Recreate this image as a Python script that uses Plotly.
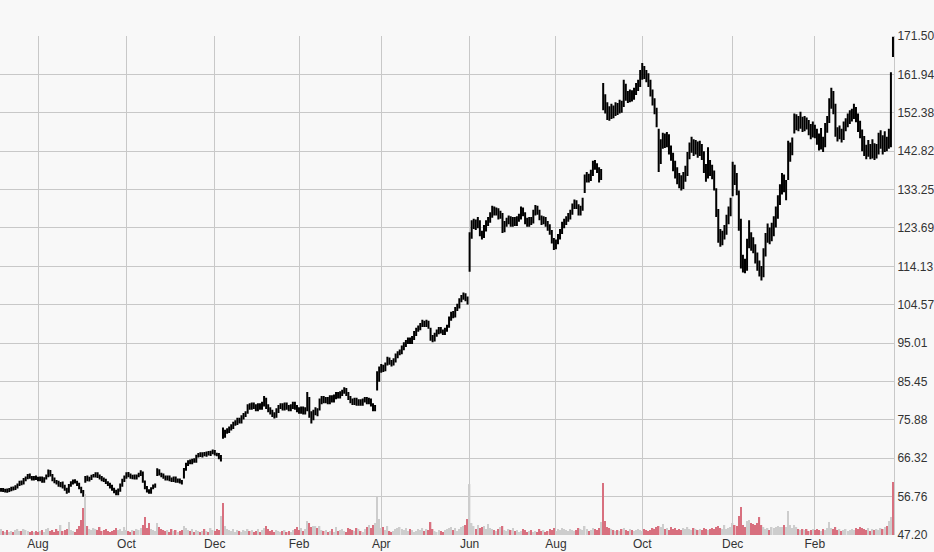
import pandas as pd
import plotly.graph_objects as go

# ---- trading calendar (x categories) ----
holidays = ["2017-09-04", "2017-11-23", "2017-12-25", "2018-01-01", "2018-01-15",
            "2018-02-19", "2018-03-30", "2018-05-28", "2018-07-04", "2018-09-03",
            "2018-11-22", "2018-12-05", "2018-12-25", "2019-01-01", "2019-01-21",
            "2019-02-18"]
dates = [d.strftime("%Y-%m-%d") for d in pd.bdate_range("2017-07-06", "2019-03-28")
         if d.strftime("%Y-%m-%d") not in holidays]

tick_months = ["2017-08", "2017-10", "2017-12", "2018-02", "2018-04", "2018-06",
               "2018-08", "2018-10", "2018-12", "2019-02"]
tick_text = ["Aug", "Oct", "Dec", "Feb", "Apr", "Jun", "Aug", "Oct", "Dec", "Feb"]

y_ticks = [47.20, 56.76, 66.32, 75.88, 85.45, 95.01, 104.57, 114.13, 123.69,
           133.25, 142.82, 152.38, 161.94, 171.50]

# ---- price data ----
open_ = [
    58.3, 58.6, 58.1, 58.5, 58.1, 58.4, 58.9, 58.7, 59.1, 59.7,
    60.4, 60.1, 60.9, 61.5, 62.1, 61.5, 61.1, 61.6, 61.3, 60.9,
    61.5, 60.5, 61.3, 61.9, 63.1, 62.1, 61.1, 60.4, 60.3, 59.5,
    60.1, 59.3, 58.7, 58.0, 59.6, 60.1, 60.7, 60.3, 59.9, 58.9,
    58.1, 60.6, 61.6, 60.9, 61.2, 61.9, 61.9, 62.5, 61.9, 61.5,
    61.1, 60.9, 60.2, 59.9, 59.3, 58.7, 58.1, 57.4, 58.3, 59.5,
    60.7, 61.5, 62.5, 62.1, 61.5, 61.9, 61.3, 62.0, 62.2, 62.7,
    60.5, 59.1, 58.3, 57.8, 58.9, 59.3, 62.2, 63.3, 62.3, 62.1,
    61.7, 61.1, 61.7, 61.1, 60.7, 61.5, 60.5, 61.0, 60.5, 61.6,
    63.5, 64.7, 65.6, 65.1, 65.9, 65.5, 66.9, 67.4, 66.9, 67.5,
    67.1, 67.7, 67.3, 67.7, 68.1, 67.3, 67.3, 66.4, 73.2, 71.9,
    72.9, 73.1, 73.7, 74.1, 74.9, 75.1, 75.9, 75.5, 76.5, 77.1,
    77.8, 79.4, 78.9, 79.7, 79.3, 78.5, 79.5, 78.9, 79.7, 81.1,
    79.3, 78.5, 77.9, 77.3, 76.9, 78.1, 79.1, 79.5, 78.7, 79.7,
    79.1, 78.5, 79.1, 79.9, 79.1, 78.5, 77.9, 78.7, 77.7, 78.3,
    80.9, 77.2, 76.3, 77.5, 78.3, 78.5, 80.3, 81.3, 80.5, 81.1,
    80.3, 81.5, 80.7, 81.5, 82.3, 81.7, 82.3, 82.9, 83.5, 82.5,
    81.3, 80.7, 80.1, 80.9, 79.9, 80.5, 79.9, 80.7, 81.1, 80.3,
    80.9, 79.7, 78.5, 84.2, 85.8, 88.3, 89.1, 88.5, 89.7, 90.9,
    90.3, 89.9, 90.7, 91.7, 92.5, 92.7, 93.7, 94.5, 95.3, 95.9,
    95.3, 96.3, 97.3, 98.3, 98.7, 99.5, 100.1, 99.5, 100.3, 98.5,
    96.5, 95.9, 97.1, 97.7, 98.5, 97.9, 97.5, 98.3, 99.2, 101.1,
    102.3, 101.7, 103.5, 104.1, 105.7, 106.3, 107.1, 106.1, 115.0, 121.6,
    124.3, 125.1, 124.1, 125.3, 122.3, 121.9, 123.5, 124.9, 125.5, 126.7,
    128.3, 127.5, 128.1, 126.7, 127.0, 123.5, 124.7, 125.3, 126.1, 124.7,
    125.7, 124.9, 125.9, 126.3, 128.1, 127.3, 125.5, 124.7, 125.7, 125.1,
    127.5, 128.7, 127.7, 126.1, 125.3, 125.7, 124.7, 123.9, 122.8, 120.5,
    118.9, 120.1, 121.3, 122.7, 124.3, 125.1, 125.9, 126.5, 127.5, 129.1,
    129.9, 129.1, 127.5, 128.5, 133.0, 135.7, 136.5, 135.9, 137.1, 139.3,
    138.9, 138.3, 136.3, 159.0, 155.1, 153.9, 152.3, 151.5, 153.1, 152.3,
    153.7, 152.9, 154.3, 154.2, 158.5, 156.7, 155.9, 157.1, 156.3, 157.7,
    158.5, 159.5, 161.5, 163.3, 161.9, 161.5, 160.1, 157.7, 155.3, 153.1,
    147.8, 140.8, 144.7, 146.1, 145.1, 146.5, 142.9, 141.7, 139.1, 138.1,
    136.1, 135.7, 134.7, 136.1, 137.3, 141.7, 143.5, 144.9, 143.1, 144.5,
    142.7, 143.9, 142.1, 138.7, 136.9, 139.5, 138.3, 137.3, 133.0, 127.9,
    121.5, 120.1, 121.7, 122.7, 125.5, 127.3, 132.0, 137.9, 135.9, 132.6,
    125.5, 116.1, 113.9, 113.6, 119.5, 121.9, 119.3, 118.7, 116.3, 114.7,
    112.9, 112.3, 117.5, 121.1, 122.5, 121.3, 122.9, 124.7, 126.9, 130.3,
    132.9, 136.1, 133.5, 136.4, 141.1, 143.3, 148.0, 149.5, 150.5, 149.3,
    150.7, 148.9, 150.3, 149.7, 148.5, 147.3, 148.7, 147.7, 146.1, 144.5,
    145.5, 144.3, 148.5, 150.5, 154.3, 157.3, 154.0, 147.9, 146.7, 147.7,
    146.3, 148.9, 149.5, 150.9, 151.3, 152.1, 153.1, 151.5, 149.1, 147.7,
    144.7, 143.1, 142.5, 143.5, 142.5, 143.9, 142.1, 143.1, 144.3, 146.3,
    143.7, 145.5, 144.5, 145.2, 170.6,
]
high = [
    58.9, 58.9, 58.7, 58.8, 58.9, 59.2, 59.3, 59.6, 60.0, 60.7,
    60.8, 61.4, 61.8, 62.4, 62.5, 61.9, 61.9, 62.0, 61.7, 61.8,
    61.8, 61.6, 62.3, 63.5, 63.4, 62.4, 61.5, 60.9, 60.7, 60.4,
    60.5, 59.7, 59.0, 59.9, 60.6, 61.0, 61.1, 60.7, 60.2, 59.2,
    58.4, 61.9, 62.0, 61.7, 62.2, 62.4, 62.8, 62.8, 62.3, 61.9,
    61.5, 61.2, 60.6, 60.2, 59.7, 59.0, 58.5, 58.8, 60.0, 61.2,
    62.0, 62.8, 62.9, 62.5, 62.2, 62.3, 62.3, 62.7, 63.3, 63.0,
    60.8, 59.4, 58.6, 59.1, 59.8, 60.0, 63.8, 63.6, 62.7, 62.5,
    62.0, 62.0, 62.0, 61.5, 61.8, 61.8, 61.3, 61.3, 60.9, 63.9,
    65.2, 65.8, 66.0, 66.2, 66.3, 67.2, 67.6, 67.8, 67.8, 67.9,
    68.0, 68.1, 68.2, 68.5, 68.4, 67.7, 67.6, 67.1, 74.0, 73.4,
    73.8, 74.2, 74.8, 75.4, 75.8, 76.4, 76.4, 77.0, 77.6, 78.0,
    79.8, 80.0, 80.2, 80.2, 79.8, 80.0, 80.0, 80.4, 81.8, 81.4,
    79.8, 79.0, 78.4, 77.8, 78.8, 79.6, 80.0, 80.0, 80.2, 80.2,
    79.6, 79.8, 80.4, 80.4, 79.6, 79.0, 79.2, 79.2, 79.0, 82.8,
    81.6, 78.0, 78.4, 79.0, 78.8, 81.2, 81.8, 81.8, 81.6, 81.6,
    82.0, 82.0, 82.2, 82.8, 82.8, 83.0, 83.4, 84.0, 83.8, 82.8,
    81.8, 81.2, 81.4, 81.4, 81.0, 81.0, 81.2, 81.6, 81.6, 81.4,
    81.2, 80.0, 79.6, 88.0, 89.2, 89.8, 89.6, 90.2, 91.6, 91.4,
    90.8, 91.2, 92.4, 93.0, 93.4, 94.4, 95.2, 95.8, 96.4, 96.4,
    96.8, 98.0, 98.8, 99.4, 100.0, 100.8, 100.6, 100.8, 100.6, 98.8,
    97.0, 97.6, 98.4, 99.0, 99.0, 98.4, 98.8, 99.6, 101.6, 102.8,
    103.0, 104.0, 104.8, 106.2, 107.0, 107.6, 107.4, 106.6, 122.6, 125.6,
    126.0, 125.8, 126.4, 125.6, 123.0, 124.4, 125.6, 126.4, 127.6, 129.2,
    129.0, 128.8, 128.6, 128.0, 127.4, 125.4, 126.2, 126.8, 126.6, 126.4,
    126.4, 126.6, 127.2, 129.0, 128.8, 127.6, 126.2, 126.4, 126.4, 128.2,
    129.4, 129.2, 128.2, 126.8, 126.6, 126.4, 125.4, 124.6, 123.2, 121.2,
    120.8, 122.2, 123.4, 125.2, 126.0, 126.6, 127.4, 128.2, 129.8, 130.8,
    130.6, 129.6, 129.2, 131.2, 137.0, 137.6, 137.2, 138.2, 140.4, 140.6,
    139.8, 138.8, 138.4, 159.8, 157.0, 155.0, 154.0, 154.6, 154.2, 155.0,
    154.8, 155.6, 155.4, 160.6, 159.6, 157.8, 158.2, 158.0, 158.6, 159.8,
    160.6, 163.0, 164.8, 164.0, 163.0, 162.2, 160.6, 158.2, 156.0, 153.6,
    148.4, 145.8, 147.4, 147.2, 147.6, 147.0, 144.2, 142.4, 140.4, 138.8,
    137.4, 136.8, 137.6, 139.2, 142.6, 145.0, 146.4, 145.8, 145.6, 145.2,
    145.4, 144.6, 142.8, 139.6, 143.8, 140.6, 139.4, 138.0, 133.6, 128.4,
    123.4, 123.0, 124.4, 127.0, 129.0, 131.2, 140.2, 139.4, 137.4, 133.0,
    126.0, 117.0, 116.0, 121.0, 125.6, 122.6, 121.4, 119.6, 117.6, 115.6,
    114.2, 118.6, 122.4, 124.8, 123.8, 125.0, 126.6, 129.0, 131.8, 134.6,
    137.4, 137.0, 135.6, 145.4, 145.0, 146.2, 152.2, 152.0, 151.6, 152.6,
    151.4, 151.6, 151.2, 150.6, 149.6, 150.2, 149.4, 148.4, 147.2, 148.6,
    146.4, 149.8, 151.6, 156.0, 158.6, 157.8, 154.6, 148.8, 149.2, 148.4,
    150.2, 151.0, 152.2, 153.0, 153.4, 154.6, 153.8, 152.2, 150.4, 148.2,
    146.6, 144.4, 145.6, 144.6, 145.8, 144.8, 144.6, 147.4, 148.0, 146.8,
    147.8, 146.4, 148.4, 162.5, 171.3,
]
low = [
    58.0, 57.9, 57.8, 57.7, 57.9, 58.1, 58.3, 58.4, 58.8, 59.4,
    59.6, 59.8, 60.6, 61.1, 61.2, 60.8, 60.8, 60.9, 60.6, 60.6,
    60.2, 60.2, 61.0, 61.6, 61.8, 60.6, 60.1, 59.8, 59.2, 59.1,
    58.8, 58.2, 57.5, 57.7, 59.2, 59.8, 60.0, 59.4, 58.6, 57.6,
    56.7, 60.2, 60.6, 60.5, 60.9, 61.5, 61.5, 61.4, 61.0, 60.6,
    60.4, 59.9, 59.4, 58.8, 58.2, 57.6, 57.1, 57.1, 58.0, 59.2,
    60.4, 61.2, 61.6, 61.2, 61.1, 61.0, 61.0, 61.6, 61.9, 60.2,
    58.6, 57.8, 57.5, 57.5, 58.6, 59.0, 61.9, 62.0, 61.6, 61.2,
    60.8, 60.8, 60.6, 60.4, 60.4, 60.2, 60.2, 60.0, 59.8, 61.3,
    63.2, 64.4, 64.8, 64.8, 65.2, 65.2, 66.5, 66.6, 66.5, 66.8,
    66.7, 67.0, 66.9, 67.3, 67.0, 66.8, 66.1, 65.5, 71.2, 71.4,
    72.4, 72.6, 73.2, 73.6, 74.4, 74.6, 75.0, 75.0, 76.0, 76.6,
    77.4, 78.4, 78.4, 78.6, 78.0, 78.0, 78.4, 78.4, 79.2, 78.6,
    77.8, 77.2, 76.6, 76.2, 76.4, 77.6, 78.6, 78.2, 78.2, 78.4,
    78.0, 78.0, 78.6, 78.4, 77.8, 77.4, 77.4, 77.2, 77.2, 78.0,
    76.4, 75.0, 75.8, 77.0, 76.8, 78.2, 79.8, 80.0, 80.0, 79.8,
    79.8, 80.2, 80.2, 81.0, 81.2, 81.2, 81.8, 82.4, 81.8, 80.8,
    80.0, 79.6, 79.6, 79.4, 79.4, 79.4, 79.4, 80.2, 79.8, 79.8,
    79.2, 78.0, 78.0, 83.2, 85.4, 87.6, 87.8, 88.0, 89.4, 89.6,
    89.2, 89.4, 90.2, 91.2, 92.0, 92.2, 93.2, 94.0, 94.8, 94.8,
    94.8, 95.8, 96.8, 97.8, 98.2, 99.0, 99.0, 99.0, 98.6, 95.6,
    95.2, 95.4, 96.6, 97.2, 97.4, 97.0, 97.0, 97.8, 98.8, 100.6,
    101.2, 101.4, 103.0, 103.6, 105.2, 105.8, 105.4, 104.6, 112.8, 121.0,
    123.4, 123.2, 123.6, 121.6, 120.8, 121.2, 122.8, 124.2, 125.0, 126.2,
    126.8, 126.8, 125.8, 126.0, 122.4, 122.6, 124.0, 124.6, 124.0, 124.0,
    124.2, 124.2, 125.2, 125.8, 126.6, 124.6, 124.0, 124.0, 124.4, 124.8,
    126.8, 127.0, 125.6, 124.4, 124.6, 124.0, 123.0, 122.0, 119.8, 118.2,
    118.4, 119.6, 120.8, 122.2, 123.6, 124.4, 125.2, 125.8, 127.0, 128.4,
    128.4, 126.8, 126.8, 128.0, 132.4, 135.0, 135.0, 135.4, 136.6, 138.2,
    137.4, 135.0, 135.6, 153.0, 152.2, 150.6, 150.4, 150.8, 151.0, 151.6,
    151.8, 152.2, 152.4, 153.8, 155.4, 154.8, 155.0, 155.2, 155.6, 156.8,
    157.8, 158.8, 160.6, 160.8, 160.0, 158.8, 156.4, 154.2, 152.0, 148.8,
    137.6, 139.6, 143.4, 143.6, 143.8, 142.0, 140.4, 137.8, 136.0, 134.6,
    133.6, 133.0, 133.4, 135.2, 136.6, 140.8, 142.4, 141.6, 142.0, 141.2,
    141.6, 140.6, 137.4, 135.2, 136.0, 136.6, 135.8, 133.0, 126.4, 120.0,
    119.0, 119.4, 120.8, 122.0, 124.6, 126.6, 131.6, 134.4, 131.8, 123.0,
    113.6, 112.6, 112.4, 113.0, 118.6, 118.0, 117.4, 114.8, 113.0, 111.6,
    110.6, 111.4, 116.6, 120.0, 119.6, 120.4, 121.6, 123.8, 126.0, 129.4,
    132.0, 132.6, 130.6, 135.6, 140.2, 141.8, 147.2, 148.0, 147.8, 148.4,
    147.6, 147.8, 148.2, 146.8, 145.8, 146.2, 146.0, 144.4, 143.0, 143.2,
    142.6, 143.8, 147.4, 149.8, 153.4, 152.0, 146.4, 145.2, 145.8, 145.0,
    145.6, 147.8, 148.8, 149.6, 150.2, 150.8, 150.0, 147.6, 146.0, 142.8,
    141.6, 140.8, 141.4, 140.8, 141.0, 140.6, 141.0, 142.0, 143.4, 142.0,
    142.6, 142.8, 143.4, 143.8, 166.3,
]
close = [
    58.6, 58.2, 58.4, 58.0, 58.5, 58.8, 58.6, 59.2, 59.6, 60.3,
    60.0, 61.0, 61.4, 62.0, 61.6, 61.2, 61.5, 61.3, 61.0, 61.4,
    60.6, 61.2, 61.8, 63.0, 62.2, 61.0, 60.5, 60.2, 59.6, 60.0,
    59.2, 58.6, 57.9, 59.5, 60.2, 60.6, 60.4, 59.8, 59.0, 58.0,
    57.2, 61.5, 61.0, 61.3, 61.8, 62.0, 62.4, 61.8, 61.4, 61.0,
    60.8, 60.3, 59.8, 59.2, 58.6, 58.0, 57.5, 58.4, 59.6, 60.8,
    61.6, 62.4, 62.0, 61.6, 61.8, 61.4, 61.9, 62.3, 62.9, 60.6,
    59.0, 58.2, 57.9, 58.8, 59.4, 59.6, 63.2, 62.4, 62.0, 61.6,
    61.2, 61.6, 61.0, 60.8, 61.4, 60.6, 60.9, 60.4, 60.2, 63.4,
    64.8, 65.4, 65.2, 65.8, 65.6, 66.8, 67.2, 67.0, 67.4, 67.2,
    67.6, 67.4, 67.8, 68.0, 67.4, 67.2, 66.6, 66.6, 72.0, 72.8,
    73.2, 73.6, 74.2, 74.8, 75.2, 75.8, 75.6, 76.4, 77.0, 77.4,
    79.2, 79.0, 79.6, 79.2, 78.6, 79.4, 79.0, 79.8, 81.0, 79.2,
    78.4, 77.8, 77.2, 76.8, 78.2, 79.0, 79.4, 78.8, 79.6, 79.0,
    78.6, 79.2, 79.8, 79.0, 78.4, 78.0, 78.6, 77.8, 78.4, 80.6,
    77.0, 76.4, 77.6, 78.2, 77.4, 80.4, 81.2, 80.6, 81.0, 80.4,
    81.4, 80.8, 81.6, 82.2, 81.8, 82.4, 82.8, 83.4, 82.4, 81.4,
    80.6, 80.2, 80.8, 80.0, 80.4, 80.0, 80.6, 81.0, 80.4, 80.8,
    79.8, 78.6, 79.0, 85.6, 88.4, 89.0, 88.6, 89.6, 90.8, 90.2,
    90.0, 90.6, 91.8, 92.4, 92.8, 93.6, 94.6, 95.2, 95.8, 95.4,
    96.2, 97.4, 98.2, 98.8, 99.4, 100.0, 99.6, 100.2, 99.2, 96.4,
    96.0, 97.0, 97.8, 98.4, 98.0, 97.6, 98.2, 98.8, 101.0, 102.2,
    101.8, 103.4, 104.2, 105.6, 106.4, 107.0, 106.2, 105.2, 121.4, 124.4,
    125.0, 124.2, 125.4, 122.4, 121.8, 123.6, 124.8, 125.6, 126.6, 128.2,
    127.6, 128.0, 126.8, 127.2, 123.4, 124.6, 125.4, 126.0, 124.8, 125.6,
    125.0, 125.8, 126.4, 128.0, 127.4, 125.4, 124.8, 125.6, 125.2, 127.4,
    128.6, 127.8, 126.2, 125.2, 125.8, 124.8, 123.8, 123.0, 120.6, 119.0,
    120.0, 121.4, 122.6, 124.4, 125.2, 125.8, 126.6, 127.4, 129.0, 129.8,
    129.2, 127.6, 128.4, 130.4, 135.8, 136.4, 136.0, 137.0, 139.2, 139.0,
    138.2, 136.4, 137.6, 155.0, 154.0, 152.2, 151.6, 153.0, 152.4, 153.6,
    153.0, 154.2, 153.8, 158.4, 156.8, 156.0, 157.0, 156.4, 157.6, 158.6,
    159.4, 161.6, 163.2, 162.0, 161.4, 160.2, 157.6, 155.4, 153.2, 150.4,
    141.0, 144.6, 146.0, 145.2, 146.4, 143.0, 141.6, 139.2, 138.0, 136.2,
    135.6, 134.8, 136.0, 137.4, 141.6, 143.6, 144.8, 143.2, 144.4, 142.8,
    143.8, 142.2, 138.6, 137.0, 139.4, 138.4, 137.2, 134.4, 128.0, 121.4,
    120.2, 121.6, 122.8, 125.6, 127.4, 129.6, 137.8, 136.0, 134.4, 128.0,
    116.0, 114.0, 113.4, 119.6, 121.8, 119.4, 118.6, 116.4, 114.6, 113.0,
    111.8, 117.6, 121.0, 122.6, 121.4, 122.8, 124.8, 126.8, 130.4, 132.8,
    136.0, 133.6, 134.4, 141.0, 143.4, 144.6, 149.6, 150.4, 149.4, 150.6,
    149.0, 150.2, 149.8, 148.4, 147.4, 148.6, 147.8, 146.0, 144.6, 145.4,
    144.2, 148.6, 150.4, 154.4, 157.2, 155.0, 148.0, 146.8, 147.6, 146.4,
    148.8, 149.6, 150.8, 151.4, 152.0, 153.2, 151.6, 149.0, 147.8, 144.6,
    143.2, 142.4, 143.4, 142.6, 143.8, 142.2, 143.0, 144.4, 146.2, 143.8,
    145.4, 144.6, 146.2, 161.0, 167.6,
]
volume = [  # millions of shares
    0.6, 0.4, 0.3, 0.5, 0.3, 0.4, 0.3, 0.5, 0.6, 0.4,
    0.4, 0.6, 0.5, 0.4, 0.3, 0.4, 0.3, 0.4, 0.3, 0.4,
    0.5, 0.3, 0.6, 0.7, 0.4, 0.5, 0.3, 0.6, 0.4, 1.0,
    0.4, 0.5, 0.6, 1.3, 0.5, 0.4, 0.3, 0.6, 0.9, 1.5,
    2.7, 4.1, 0.9, 0.6, 0.5, 0.7, 0.6, 0.5, 0.8, 0.4,
    0.5, 0.6, 0.4, 0.3, 0.4, 0.5, 0.7, 0.5, 0.6, 0.4,
    0.8, 0.5, 0.4, 0.3, 0.5, 0.4, 0.6, 0.5, 0.7, 1.0,
    1.8, 0.7, 1.2, 0.6, 0.5, 0.4, 1.2, 0.8, 0.6, 0.5,
    0.4, 0.5, 0.3, 0.6, 0.4, 0.5, 0.3, 0.4, 0.5, 0.9,
    0.7, 0.5, 0.4, 0.6, 0.3, 0.5, 0.4, 0.3, 0.4, 0.6,
    0.4, 0.3, 0.7, 0.5, 0.4, 0.6, 0.5, 1.9, 3.2, 0.9,
    0.6, 0.5, 0.4, 0.6, 0.3, 0.5, 0.4, 0.3, 0.5, 0.4,
    0.6, 0.4, 0.5, 0.3, 0.4, 0.6, 0.3, 0.5, 0.7, 0.9,
    0.6, 0.4, 0.5, 0.3, 0.5, 0.4, 0.3, 0.4, 0.5, 0.3,
    0.4, 0.3, 0.5, 0.6, 0.8, 0.5, 0.7, 0.4, 0.6, 1.4,
    1.2, 0.8, 0.9, 0.9, 0.7, 0.9, 0.5, 0.4, 0.5, 0.3,
    0.4, 0.6, 0.3, 0.8, 0.4, 0.5, 0.6, 0.4, 0.3, 0.7,
    0.6, 0.5, 0.4, 0.7, 0.6, 0.4, 0.3, 0.6, 0.8, 1.0,
    0.7, 1.0, 1.2, 3.8, 1.6, 0.7, 0.8, 0.5, 0.9, 0.4,
    0.3, 0.4, 0.6, 0.7, 0.8, 0.6, 0.5, 0.7, 0.4, 0.6,
    0.5, 0.3, 0.4, 0.6, 0.5, 0.7, 0.4, 0.6, 0.5, 1.3,
    0.6, 0.4, 0.3, 0.5, 0.4, 0.3, 0.5, 0.6, 0.7, 0.8,
    0.5, 0.7, 0.4, 0.6, 0.8, 0.9, 1.0, 1.6, 5.1, 1.2,
    0.9, 0.6, 1.0, 0.7, 0.8, 0.9, 0.6, 1.1, 0.7, 0.6,
    0.5, 0.4, 0.6, 0.8, 0.9, 0.5, 0.4, 0.6, 0.5, 0.7,
    0.4, 0.5, 0.3, 0.4, 0.6, 0.5, 0.3, 0.4, 0.5, 0.3,
    0.4, 0.3, 0.6, 0.4, 0.5, 0.3, 0.4, 0.6, 0.5, 0.7,
    0.4, 0.6, 0.5, 0.7, 0.6, 0.5, 0.4, 0.6, 0.5, 0.4,
    0.5, 0.7, 0.6, 0.5, 0.9, 0.6, 0.4, 0.5, 0.7, 0.6,
    0.5, 0.7, 1.3, 5.2, 1.4, 0.8, 0.7, 0.6, 0.5, 0.4,
    0.5, 0.4, 0.6, 0.7, 0.5, 0.4, 0.6, 0.5, 0.4, 0.5,
    0.6, 0.5, 0.4, 0.6, 0.5, 0.4, 0.5, 0.7, 0.6, 0.8,
    0.9, 0.8, 1.1, 0.6, 0.7, 0.5, 0.8, 0.6, 0.7, 0.5,
    0.6, 0.5, 0.7, 0.6, 0.8, 0.6, 0.5, 0.7, 0.6, 0.5,
    0.6, 0.5, 0.7, 0.6, 0.5, 0.6, 0.7, 0.6, 0.8, 0.9,
    0.7, 0.6, 1.0, 0.6, 0.7, 0.8, 1.2, 1.0, 0.9, 1.9,
    2.8, 1.0, 0.8, 1.4, 1.5, 1.2, 1.1, 1.0, 1.2, 1.8,
    1.0, 0.8, 0.6, 0.7, 0.5, 0.8, 0.7, 0.8, 0.9, 0.8,
    0.8, 1.0, 0.8, 2.4, 1.0, 0.7, 1.0, 0.8, 0.6, 0.5,
    0.6, 0.5, 0.6, 0.4, 0.5, 0.6, 0.5, 0.6, 0.5, 0.4,
    0.6, 0.5, 0.7, 1.3, 0.7, 0.6, 0.8, 0.5, 0.6, 0.4,
    0.5, 0.6, 0.4, 0.5, 0.6, 0.5, 0.7, 0.6, 0.8, 0.7,
    0.6, 0.5, 0.7, 0.4, 0.6, 0.5, 0.6, 0.5, 0.7, 0.6,
    0.8, 0.9, 1.4, 1.8, 5.3,
]

n = len(dates)
assert all(len(a) == n for a in (open_, high, low, close, volume)), \
    (n, len(open_), len(high), len(low), len(close), len(volume))

RED = "#d8707f"
GREY = "#cdcdcd"
vol_colors = [RED if c < o else GREY for o, c in zip(open_, close)]

tick_vals = [next(d for d in dates if d.startswith(m)) for m in tick_months]

fig = go.Figure()
fig.add_trace(go.Bar(
    x=dates, y=volume, yaxis="y2", marker_color=vol_colors,
    marker_line_width=0, width=0.72, hoverinfo="skip", showlegend=False,
))
fig.add_trace(go.Ohlc(
    x=dates, open=open_, high=high, low=low, close=close,
    increasing_line_color="#000000", decreasing_line_color="#000000",
    line_width=2, tickwidth=0.3, showlegend=False,
))

fig.update_layout(
    width=934, height=552,
    margin=dict(l=0, r=40, t=36, b=17, pad=0),
    paper_bgcolor="#f8f8f8", plot_bgcolor="#f8f8f8",
    font=dict(family="Arial, Liberation Sans, sans-serif", size=12, color="#333333"),
    bargap=0.2,
    xaxis=dict(
        type="category", categoryorder="array", categoryarray=dates,
        range=[-0.5, n - 0.5], rangeslider=dict(visible=False),
        tickmode="array", tickvals=tick_vals, ticktext=tick_text,
        showgrid=True, gridcolor="#c8c8c8", gridwidth=1,
        ticks="", showline=False, zeroline=False,
        tickfont=dict(size=12, color="#333333"),
    ),
    yaxis=dict(
        side="right", range=[47.20, 171.50],
        tickmode="array", tickvals=y_ticks,
        ticktext=[f"{v:.2f}" for v in y_ticks],
        showgrid=True, gridcolor="#c8c8c8", gridwidth=1,
        ticks="", zeroline=False,
        showline=True, linecolor="#c8c8c8", linewidth=1,
        tickfont=dict(size=12, color="#333333"),
    ),
    yaxis2=dict(
        overlaying="y", range=[0, 50], visible=False, showgrid=False,
    ),
)

fig.write_html(
    "out.html",
    config={"displayModeBar": False},
    post_script="document.body.style.margin='0';document.body.style.overflow='hidden';",
)
